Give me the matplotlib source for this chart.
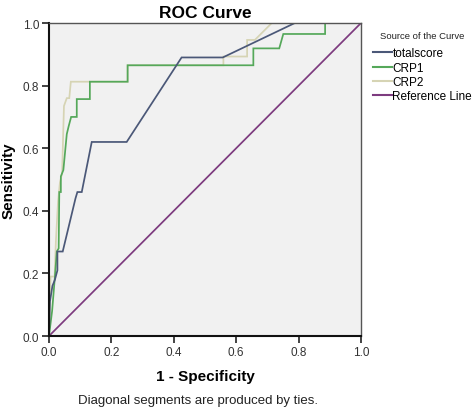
"""ROC curves for totalscore, CRP1 and CRP2 (SPSS-style output)."""

import matplotlib

matplotlib.use("Agg")
import matplotlib.pyplot as plt
from matplotlib.lines import Line2D

plt.rcParams["font.family"] = ["Liberation Sans", "DejaVu Sans"]

# 1 - specificity / sensitivity pairs
totalscore_fpr = [0.0, 0.003, 0.011, 0.019, 0.027, 0.027, 0.044, 0.085, 0.091,
                  0.105, 0.137, 0.249, 0.425, 0.557, 0.788, 1.0]
totalscore_tpr = [0.0, 0.11, 0.16, 0.18, 0.21, 0.27, 0.27, 0.44, 0.46,
                  0.46, 0.62, 0.62, 0.89, 0.89, 1.0, 1.0]

crp1_fpr = [0.0, 0.01, 0.019, 0.025, 0.031, 0.033, 0.038, 0.038, 0.046, 0.057,
            0.063, 0.071, 0.089, 0.089, 0.131, 0.131, 0.252, 0.252, 0.655,
            0.655, 0.738, 0.751, 0.885, 0.885, 1.0]
crp1_tpr = [0.0, 0.08, 0.19, 0.27, 0.28, 0.46, 0.46, 0.51, 0.53, 0.645,
            0.67, 0.70, 0.70, 0.757, 0.757, 0.8125, 0.8125, 0.865, 0.865,
            0.919, 0.919, 0.965, 0.965, 1.0, 1.0]

crp2_fpr = [0.0, 0.005, 0.018, 0.022, 0.029, 0.035, 0.042, 0.048, 0.057, 0.065,
            0.07, 0.252, 0.252, 0.559, 0.559, 0.635, 0.635, 0.66, 0.714, 1.0]
crp2_tpr = [0.0, 0.19, 0.19, 0.30, 0.43, 0.49, 0.52, 0.735, 0.76, 0.76,
            0.8125, 0.8125, 0.865, 0.865, 0.893, 0.893, 0.946, 0.946, 1.0, 1.0]

reference_x = [0.0, 1.0]
reference_y = [0.0, 1.0]

series_labels = ["totalscore", "CRP1", "CRP2", "Reference Line"]
series_colors = ["#4b5878", "#55a85a", "#d6d4b4", "#7d3b7f"]
ticks = [0.0, 0.2, 0.4, 0.6, 0.8, 1.0]

fig = plt.figure(figsize=(4.72, 4.10), dpi=100)
ax = fig.add_axes([0.1038, 0.178, 0.661, 0.7634])
ax.set_facecolor("#f1f1f1")

curves = [
    (totalscore_fpr, totalscore_tpr),
    (crp1_fpr, crp1_tpr),
    (crp2_fpr, crp2_tpr),
    (reference_x, reference_y),
]
# draw reference line first so the curves sit on top of it
for i in [3, 2, 1, 0]:
    xs, ys = curves[i]
    ax.plot(xs, ys, color=series_colors[i], linewidth=1.25, solid_joinstyle="miter")

ax.set_xlim(0, 1)
ax.set_ylim(0, 1)
ax.set_xticks(ticks)
ax.set_yticks(ticks)
ax.set_xticklabels([f"{t:.1f}" for t in ticks])
ax.set_yticklabels([f"{t:.1f}" for t in ticks])
ax.tick_params(direction="out", length=5, width=1.2, labelsize=8.5,
               labelcolor="#333333", color="#222222", pad=2)
for side in ("top", "right"):
    ax.spines[side].set_linewidth(1.0)
    ax.spines[side].set_color("#555555")
for side in ("left", "bottom"):
    ax.spines[side].set_linewidth(1.5)
    ax.spines[side].set_color("#111111")

ax.set_title("ROC Curve", fontsize=12.5, fontweight="bold", pad=4)
ax.set_xlabel("1 - Specificity", fontsize=11, fontweight="bold", labelpad=8)
ax.set_ylabel("Sensitivity", fontsize=11, fontweight="bold", labelpad=5)

fig.text(0.42, 0.008, "Diagonal segments are produced by ties.",
         fontsize=9.5, ha="center", va="bottom", color="#222222")

handles = [Line2D([], [], color=c, linewidth=1.5) for c in series_colors]
fig.text(0.805, 0.91, "Source of the Curve", fontsize=6.8, ha="left",
         va="center", color="#222222")
fig.legend(handles, series_labels, loc="upper left",
           bbox_to_anchor=(0.79, 0.882), frameon=False, fontsize=8.5,
           handlelength=1.6, handletextpad=0.05, labelspacing=0.2,
           borderaxespad=0, borderpad=0)

fig.savefig("out.png", dpi=100)
plt.close(fig)
